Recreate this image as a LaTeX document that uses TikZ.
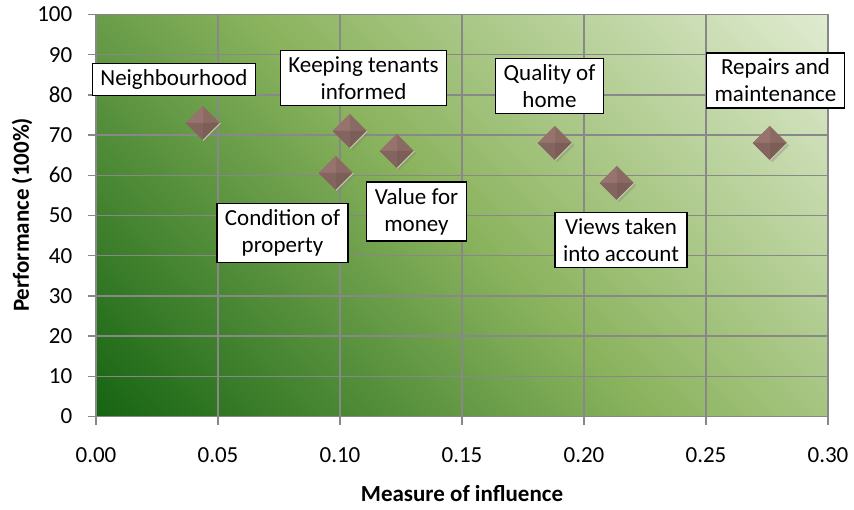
\documentclass[tikz,border=0pt]{standalone}
\usepackage{fontspec}
\setmainfont{Carlito}
\usepackage{tikz}
\usetikzlibrary{shapes.geometric,shadows}

\definecolor{gridgray}{RGB}{136,136,136}
\definecolor{gdark}{RGB}{22,100,18}
\definecolor{gmid}{RGB}{140,180,95}
\definecolor{glight}{RGB}{224,235,208}
\definecolor{brick}{RGB}{140,106,100}
\definecolor{facenw}{RGB}{150,115,108}
\definecolor{facesw}{RGB}{132,100,94}
\definecolor{facese}{RGB}{124,93,87}
\definecolor{rim}{RGB}{196,204,160}

% diagonal background: stops chosen so the corners of the plot get the end colours
\pgfdeclareverticalshading{chartbg}{100bp}{color(0bp)=(gdark); color(14.64bp)=(gdark); color(50bp)=(gmid); color(85.36bp)=(glight); color(100bp)=(glight)}

\begin{document}
\begin{tikzpicture}[x=0.5pt,y=0.5pt,
    lbl/.style={draw=black,line width=0.7pt,fill=white,align=center,inner xsep=4pt,inner ysep=3pt,font=\fontsize{11.5}{13.5}\selectfont},
    pt/.style={diamond,fill=brick,minimum size=17pt,inner sep=0pt,drop shadow={opacity=0.35,shadow xshift=1.2pt,shadow yshift=-1.2pt}},
    ticklbl/.style={inner sep=0pt,text=black,font=\fontsize{11.5}{13.5}\selectfont}]
    \useasboundingbox (0,0) rectangle (854,509);
    \shade[shading=chartbg,shading angle=-45] (96,92.5) rectangle (828,494.5);
    % grid and ticks
    \foreach \v in {0,10,...,100}
        \draw[gridgray,line width=0.75pt] (88,{92.5+4.02*\v}) -- (828,{92.5+4.02*\v}) node[ticklbl,anchor=east] at (73,{92.5+4.02*\v}) {\v};
    \foreach \i/\t in {0/0.00,1/0.05,2/0.10,3/0.15,4/0.20,5/0.25,6/0.30}
        \draw[gridgray,line width=0.75pt] ({96+122*\i},84.5) -- ({96+122*\i},494.5) node[ticklbl] at ({96+122*\i},54) {\t};
    \draw[gridgray,line width=0.75pt] (96,92.5) -- (828,92.5);
    % axis titles
    \node[font=\fontsize{11.5}{13.5}\selectfont\bfseries,rotate=90] (ylab) at (22,294) {Performance (100\%)};
    \node[font=\fontsize{11.5}{13.5}\selectfont\bfseries] (xlab) at (462,15) {Measure of influence};
    % points
    \node[pt] (nbh) at (203,386) {};
    \node[pt] (kti) at (350,378) {};
    \node[pt] (vfm) at (397,358) {};
    \node[pt] (cop) at (336,336) {};
    \node[pt] (qoh) at (555,366) {};
    \node[pt] (vta) at (617,326) {};
    \node[pt] (ram) at (770,366) {};
    \foreach \n in {nbh,kti,vfm,cop,qoh,vta,ram} {
        \fill[facenw] (\n.west) -- (\n.north) -- (\n.center) -- cycle;
        \fill[facesw] (\n.west) -- (\n.south) -- (\n.center) -- cycle;
        \fill[facese] (\n.east) -- (\n.south) -- (\n.center) -- cycle;
        \draw[rim,line width=0.5pt] (\n.east) -- (\n.south);
    }
    % labels
    \node[lbl] (nbhlbl) at (174,429.5) {Neighbourhood};
    \node[lbl] (ktilbl) at (363.5,431) {Keeping tenants\\informed};
    \node[lbl] (vfmlbl) at (416.5,297.5) {Value for\\money};
    \node[lbl] (coplbl) at (282.5,276) {Condition of\\property};
    \node[lbl] (qohlbl) at (549.5,423) {Quality of\\home};
    \node[lbl] (vtalbl) at (621,269) {Views taken\\into account};
    \node[lbl] (ramlbl) at (775.5,428.5) {Repairs and\\maintenance};
\end{tikzpicture}
\end{document}
